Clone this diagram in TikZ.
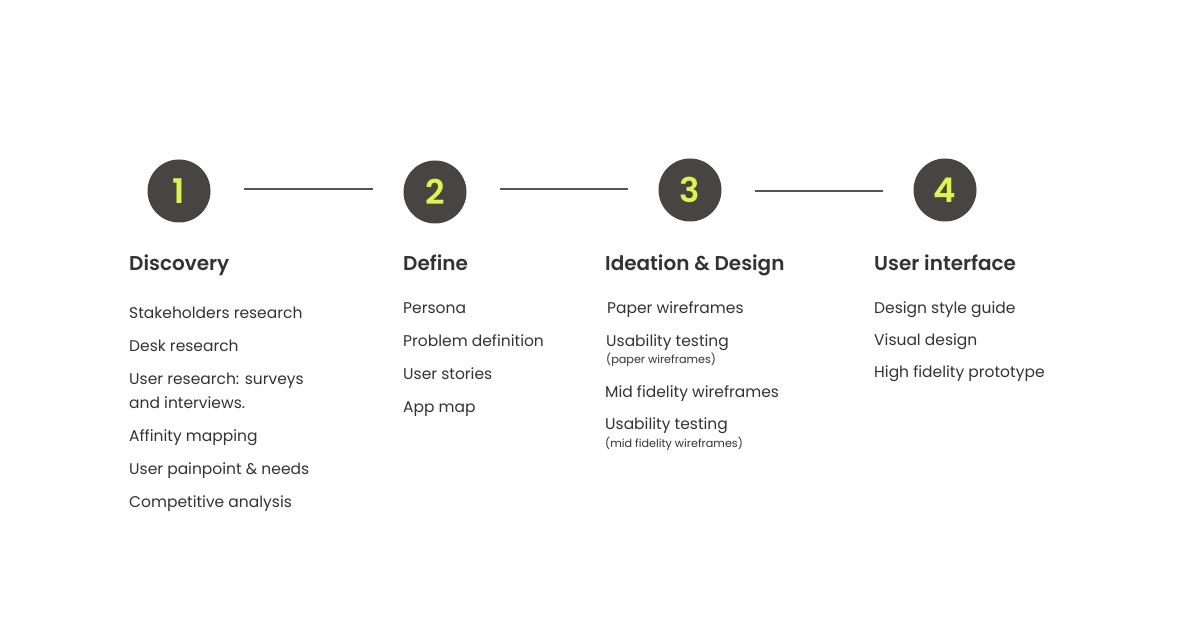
\documentclass[tikz,border=0pt]{standalone}
\usepackage{fontspec}
\setmainfont{Poppins}
\newfontfamily\headfont{Poppins SemiBold}
\definecolor{circ}{HTML}{474543}
\definecolor{num}{HTML}{DDF54B}
\definecolor{txt}{HTML}{333333}
\definecolor{ln}{HTML}{555555}
\begin{document}
\begin{tikzpicture}[x=1pt,y=-1pt,
  stepcirc/.style={circle,fill=circ,minimum size=63pt,inner sep=0pt,text=num,font=\fontsize{34}{34}\selectfont\headfont},
  conn/.style={draw=ln,line width=1.6pt},
  head/.style={anchor=base west,inner sep=0pt,text=txt,font=\fontsize{20}{24}\selectfont\headfont},
  item/.style={anchor=base west,inner sep=0pt,text=txt,font=\fontsize{15.5}{20}\selectfont},
  small/.style={anchor=base west,inner sep=0pt,text=txt,font=\fontsize{11.2}{12}\selectfont}]
\useasboundingbox[fill=white] (0,0) rectangle (1180,636);
\node[stepcirc] (c1) at (179,191) {1};
\node[stepcirc] (c2) at (435,192) {2};
\node[stepcirc] (c3) at (690,190) {3};
\node[stepcirc] (c4) at (945,190) {4};
\coordinate (l1a) at (244,189); \coordinate (l1b) at (373,189);
\coordinate (l2a) at (500,189); \coordinate (l2b) at (628,189);
\coordinate (l3a) at (755,191); \coordinate (l3b) at (883,191);
\draw[conn] (l1a) -- (l1b);
\draw[conn] (l2a) -- (l2b);
\draw[conn] (l3a) -- (l3b);
% Discovery
\node[head] (h1) at (129,271) {Discovery};
\node[item] (d1) at (129,318) {Stakeholders research};
\node[item] (d2) at (129,351) {Desk research};
\node[item] (d3) at (129,384) {User research: surveys};
\node[item] (d3b) at (129,408) {and interviews.};
\node[item] (d4) at (129,441) {Affinity mapping};
\node[item] (d5) at (129,474) {User painpoint \& needs};
\node[item] (d6) at (129,507) {Competitive analysis};
% Define
\node[head] (h2) at (403,271) {Define};
\node[item] (e1) at (403,313) {Persona};
\node[item] (e2) at (403,346) {Problem definition};
\node[item] (e3) at (403,379) {User stories};
\node[item] (e4) at (403,412) {App map};
% Ideation
\node[head] (h3) at (605,271) {Ideation \& Design};
\node[item] (i1) at (607,313) {Paper wireframes};
\node[item] (i2) at (606,346) {Usability testing};
\node[small] (i2b) at (606,363) {(paper wireframes)};
\node[item] (i3) at (605,397) {Mid fidelity wireframes};
\node[item] (i4) at (605,429) {Usability testing};
\node[small] (i4b) at (605,447) {(mid fidelity wireframes)};
% UI
\node[head] (h4) at (874,271) {User interface};
\node[item] (u1) at (874,313) {Design style guide};
\node[item] (u2) at (874,345) {Visual design};
\node[item] (u3) at (874,377) {High fidelity prototype};
\end{tikzpicture}
\end{document}
